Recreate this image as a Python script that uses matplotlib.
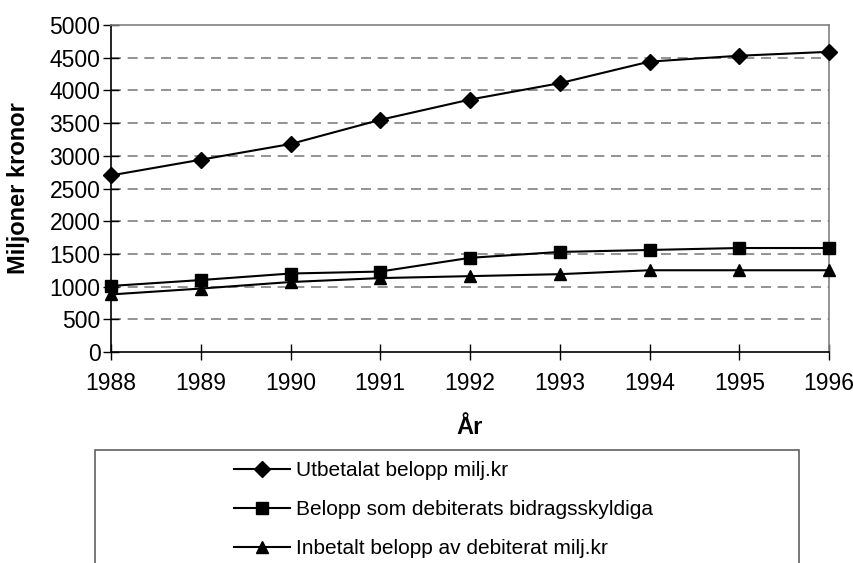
import matplotlib.pyplot as plt
import matplotlib.patches as patches

plt.rcParams['font.family'] = ['Liberation Sans', 'DejaVu Sans']

# data
years = [1988, 1989, 1990, 1991, 1992, 1993, 1994, 1995, 1996]
utbetalat = [2700, 2940, 3180, 3550, 3860, 4110, 4440, 4530, 4590]
debiterat = [1010, 1100, 1200, 1230, 1440, 1530, 1560, 1590, 1590]
inbetalt = [880, 970, 1070, 1130, 1160, 1190, 1250, 1250, 1250]

labels = ["Utbetalat belopp milj.kr",
          "Belopp som debiterats bidragsskyldiga",
          "Inbetalt belopp av debiterat milj.kr"]

fig = plt.figure(figsize=(8.54, 5.63), dpi=100)
ax = fig.add_axes([111 / 854, 1 - 352 / 563, (829 - 111) / 854, (352 - 25) / 563])

ax.plot(years, utbetalat, c="black", lw=1.5, marker="D", ms=8, label=labels[0], clip_on=False, zorder=3)
ax.plot(years, debiterat, c="black", lw=1.5, marker="s", ms=8.5, label=labels[1], clip_on=False, zorder=3)
ax.plot(years, inbetalt, c="black", lw=1.5, marker="^", ms=9, label=labels[2], clip_on=False, zorder=3)

ax.set_xlim(1988, 1996)
ax.set_ylim(0, 5000)
ax.set_xticks(years)
ax.set_yticks(range(0, 5001, 500))
for y in range(500, 5000, 500):
    ax.axhline(y, color="#808080", lw=1.2, ls=(0, (6, 4)), zorder=1)

ax.tick_params(direction="inout", length=11, width=1, labelsize=16.5, colors="black")
ax.tick_params(axis="x", pad=9)
ax.tick_params(axis="y", pad=2)
for s in ["left", "bottom"]:
    ax.spines[s].set_color("black")
    ax.spines[s].set_linewidth(1.2)
for s in ["top", "right"]:
    ax.spines[s].set_color("#808080")
    ax.spines[s].set_linewidth(1.2)

ax.set_ylabel("Miljoner kronor", fontsize=17, fontweight="bold")
ax.set_xlabel("År", fontsize=17, fontweight="bold")
ax.yaxis.label.set_va("center")
ax.xaxis.label.set_va("center")
ax.yaxis.set_label_coords(-0.1295, 0.5)
ax.xaxis.set_label_coords(0.5, -0.232)

# legend box, runs off the bottom of the picture
box = patches.Rectangle((95 / 854, -0.2), (799 - 95) / 854, 0.2 + (563 - 450) / 563,
                        transform=fig.transFigure, fill=False, edgecolor="#606060", lw=1.2)
fig.add_artist(box)
leg = fig.legend(loc="upper left", bbox_to_anchor=(226 / 854, 1 - 453 / 563), frameon=False,
                 fontsize=15, handlelength=2.65, handletextpad=0.33, labelspacing=0.95,
                 borderaxespad=0)

fig.savefig("out.png", dpi=100)
